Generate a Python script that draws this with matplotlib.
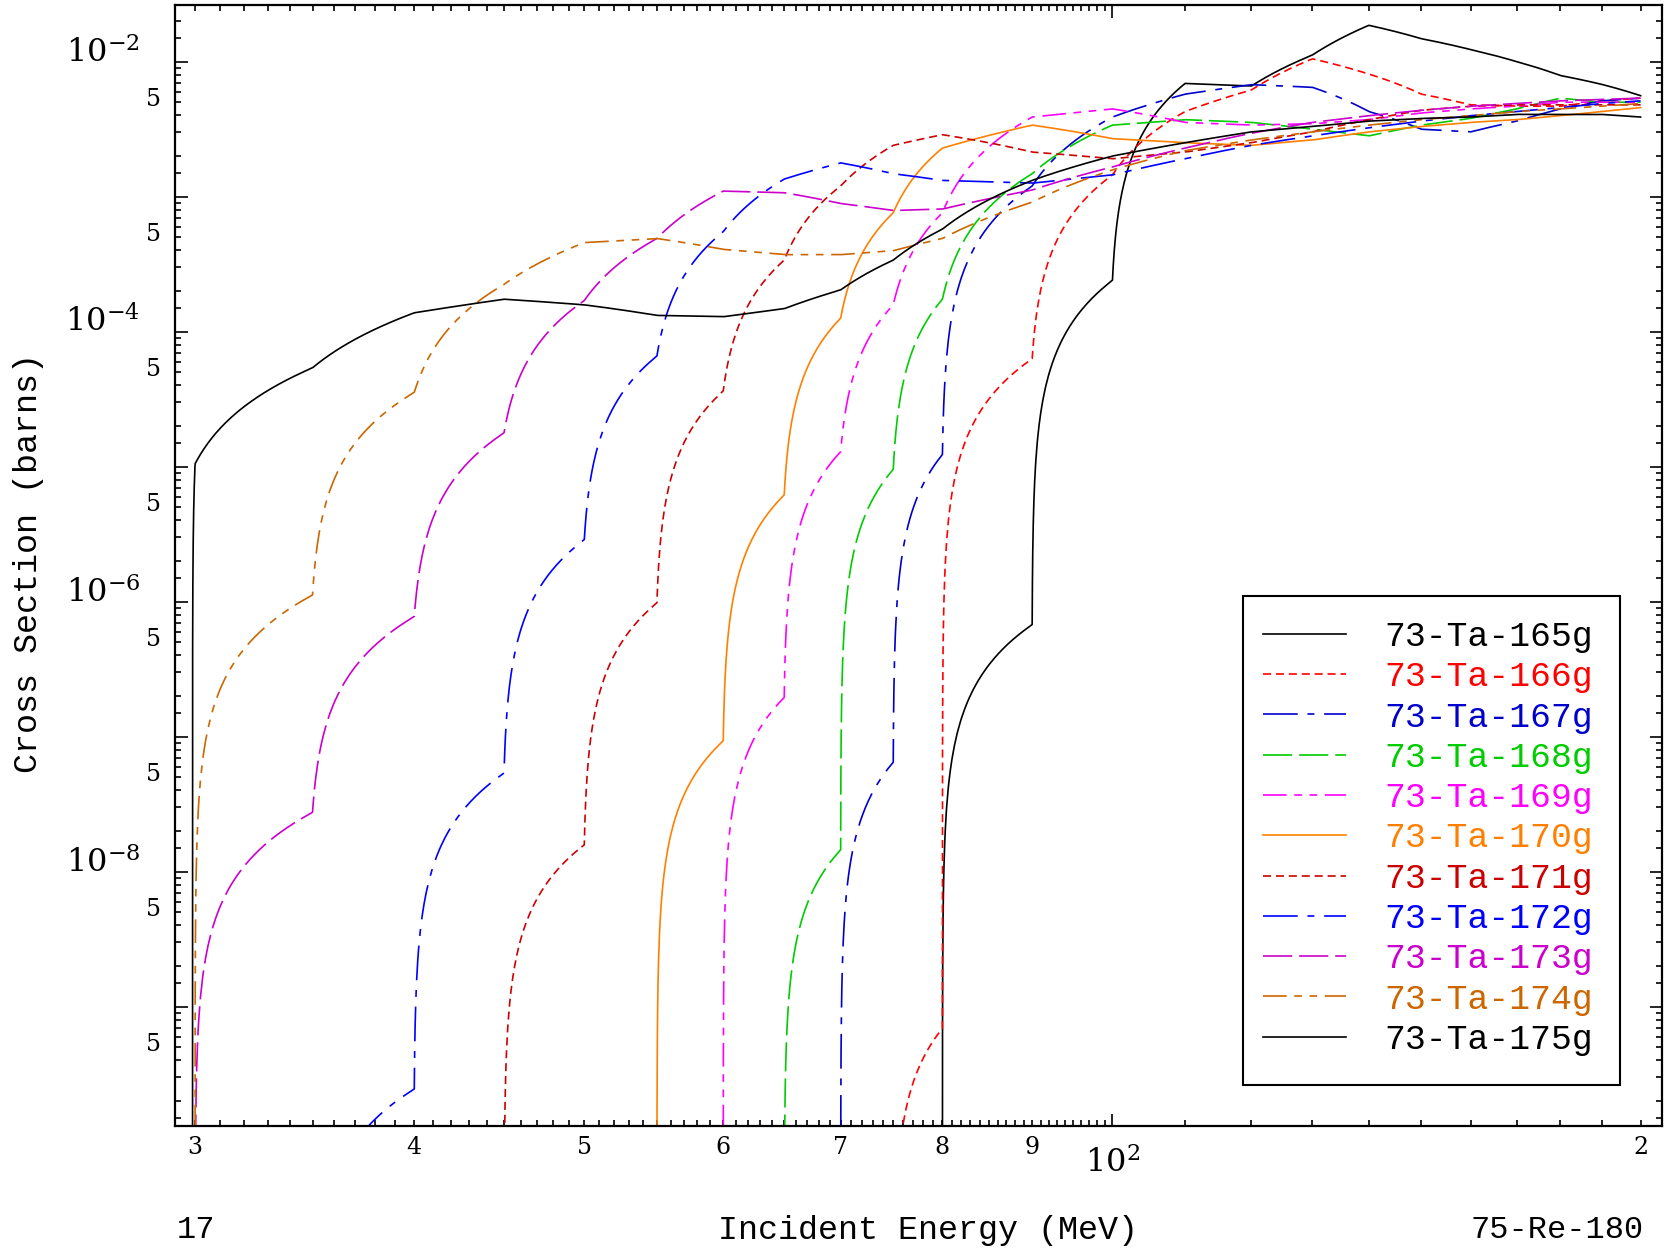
import numpy as np
import matplotlib
matplotlib.use("Agg")
import matplotlib.pyplot as plt
from matplotlib.ticker import FixedLocator, FuncFormatter, LogLocator
from matplotlib.transforms import ScaledTranslation
from matplotlib.patches import Rectangle

plt.rcParams['lines.scale_dashes'] = False
plt.rcParams['mathtext.fontset'] = 'dejavuserif'

# incident energies (MeV) of the tabulated points
energy = [29.9, 30, 35, 40, 45, 50, 55, 60, 65, 70, 75, 80, 90, 100,
          110, 120, 130, 140, 150, 160, 170, 180, 190, 200]

# cross sections (barns)
ta165 = [0, 0, 0, 0, 0, 0, 0, 0, 0, 0, 0, 0, 6.76e-7, 2.4e-4,
         6.9e-3, 6.6e-3, 1.12e-2, 1.86e-2, 1.48e-2, 1.23e-2, 1.0e-2, 7.9e-3, 6.8e-3, 5.6e-3]
ta166 = [0, 0, 0, 0, 0, 0, 0, 0, 0, 0, 0, 6.9e-10, 6.3e-5, 1.45e-3,
         4.27e-3, 6.17e-3, 1.05e-2, 8.1e-3, 5.75e-3, 4.79e-3, 4.68e-3, 4.68e-3, 5.13e-3, 5.37e-3]
ta167 = [0, 0, 0, 0, 0, 0, 0, 0, 0, 0, 6.46e-8, 1.23e-5, 1.2e-3, 3.89e-3,
         5.75e-3, 6.76e-3, 6.46e-3, 4.27e-3, 3.16e-3, 3.02e-3, 3.63e-3, 4.47e-3, 5.13e-3, 5.37e-3]
ta168 = [0, 0, 0, 0, 0, 0, 0, 0, 0, 1.45e-8, 9.55e-6, 1.74e-4, 1.48e-3, 3.39e-3,
         3.72e-3, 3.55e-3, 3.16e-3, 2.82e-3, 3.39e-3, 3.8e-3, 4.47e-3, 5.37e-3, 5.01e-3, 5.01e-3]
ta169 = [0, 0, 0, 0, 0, 0, 0, 0, 1.95e-7, 1.29e-5, 1.58e-4, 7.6e-4, 3.89e-3, 4.47e-3,
         3.55e-3, 3.39e-3, 3.47e-3, 3.72e-3, 4.17e-3, 4.47e-3, 4.68e-3, 5.01e-3, 5.01e-3, 5.01e-3]
ta170 = [0, 0, 0, 0, 0, 0, 0, 9.3e-8, 6.17e-6, 1.26e-4, 7.6e-4, 2.29e-3, 3.39e-3, 2.69e-3,
         2.51e-3, 2.4e-3, 2.63e-3, 3.02e-3, 3.31e-3, 3.55e-3, 3.72e-3, 3.98e-3, 4.27e-3, 4.57e-3]
ta171 = [0, 0, 0, 0, 0, 1.58e-8, 9.8e-7, 3.63e-5, 3.39e-4, 1.2e-3, 2.4e-3, 2.88e-3, 2.14e-3, 1.91e-3,
         2.14e-3, 2.51e-3, 3.02e-3, 3.72e-3, 4.37e-3, 4.68e-3, 4.79e-3, 4.79e-3, 4.79e-3, 4.79e-3]
ta172 = [0, 0, 0, 2.45e-10, 5.37e-8, 2.88e-6, 6.6e-5, 5.5e-4, 1.35e-3, 1.78e-3, 1.48e-3, 1.32e-3, 1.26e-3, 1.45e-3,
         1.91e-3, 2.4e-3, 2.82e-3, 3.24e-3, 3.63e-3, 3.98e-3, 4.27e-3, 4.57e-3, 4.9e-3, 5.13e-3]
ta173 = [0, 0, 2.75e-8, 7.76e-7, 1.78e-5, 1.7e-4, 4.9e-4, 1.1e-3, 1.07e-3, 8.9e-4, 7.9e-4, 8.1e-4, 1.12e-3, 1.66e-3,
         2.29e-3, 2.95e-3, 3.55e-3, 3.98e-3, 4.37e-3, 4.68e-3, 4.9e-3, 5.13e-3, 5.25e-3, 5.37e-3]
ta174 = [0, 0, 1.12e-6, 3.55e-5, 2.24e-4, 4.57e-4, 4.9e-4, 4.07e-4, 3.72e-4, 3.72e-4, 3.98e-4, 4.9e-4, 9.1e-4, 1.58e-3,
         2.19e-3, 2.63e-3, 3.02e-3, 3.39e-3, 3.72e-3, 3.98e-3, 4.27e-3, 4.47e-3, 4.68e-3, 4.9e-3]
ta175 = [0, 1.05e-5, 5.4e-5, 1.38e-4, 1.74e-4, 1.58e-4, 1.32e-4, 1.29e-4, 1.48e-4, 2.04e-4, 3.39e-4, 5.75e-4, 1.32e-3, 2.0e-3,
         2.51e-3, 3.02e-3, 3.31e-3, 3.63e-3, 3.8e-3, 3.89e-3, 4.07e-3, 4.07e-3, 4.07e-3, 3.89e-3]

labels = ["73-Ta-165g", "73-Ta-166g", "73-Ta-167g", "73-Ta-168g", "73-Ta-169g", "73-Ta-170g",
          "73-Ta-171g", "73-Ta-172g", "73-Ta-173g", "73-Ta-174g", "73-Ta-175g"]
data = [ta165, ta166, ta167, ta168, ta169, ta170, ta171, ta172, ta173, ta174, ta175]
colors = ["black", "#FF0000", "#0000CC", "#00CC00", "#FF00FF", "#FF8000",
          "#CC0000", "#0000FF", "#CC00CC", "#CC6600", "black"]

# line types: solid, dashed, dash-dot, long dash, dash-dot-dot
dash_types = {
    'solid': None,
    'dash': (5.8, 3.5),
    'dashdot': (25, 7, 5, 7),
    'long': (21, 5),
    'dashdotdot': (17, 5.5, 5.5, 5.5, 5.5, 5.5),
}
styles = ['solid', 'dash', 'dashdot', 'long', 'dashdotdot', 'solid',
          'dash', 'dashdot', 'long', 'dashdotdot', 'solid']


def linlin(e, s):
    # points are joined lin-lin (as in the evaluated file), so on log-log axes
    # each segment is a curve; sample it densely near both ends
    e = np.asarray(e, float)
    s = np.asarray(s, float)
    first = np.nonzero(s > 0)[0][0]
    start = max(first - 1, 0)
    t = np.unique(np.concatenate([np.logspace(-8, 0, 90), 1 - np.logspace(-8, 0, 90),
                                  np.linspace(0, 1, 50)]))
    xs, ys = [], []
    for i in range(start, len(e) - 1):
        xs.append(e[i] + t * (e[i + 1] - e[i]))
        ys.append(s[i] + t * (s[i + 1] - s[i]))
    return np.concatenate(xs), np.concatenate(ys)


W, H = 1665, 1251
fig = plt.figure(figsize=(W / 100, H / 100), dpi=100)
ax = fig.add_axes([175 / W, 1 - 1126 / H, (1662 - 175) / W, (1126 - 5) / H])
ax.set_xscale('log')
ax.set_yscale('log', nonpositive='clip')

handles = []
for lab, vals, col, st in zip(labels, data, colors, styles):
    x, y = linlin(energy, vals)
    ln, = ax.plot(x, y, color=col, lw=1.2, label=lab)
    if dash_types[st] is not None:
        ln.set_dashes(dash_types[st])
    handles.append(ln)

ax.set_xlim(29.22, 205.7)
ax.set_ylim(1.306e-10, 0.0263)

for sp in ax.spines.values():
    sp.set_linewidth(1.6)

# x ticks
ax.xaxis.set_major_locator(FixedLocator([100]))
ax.xaxis.set_major_formatter(FuncFormatter(lambda v, p: r'$10^{2}$'))
xminor = list(range(30, 100)) + list(range(110, 210, 10))
ax.xaxis.set_minor_locator(FixedLocator(xminor))
xlab = {30: '3', 40: '4', 50: '5', 60: '6', 70: '7', 80: '8', 90: '9', 200: '2'}
ax.xaxis.set_minor_formatter(FuncFormatter(lambda v, p: xlab.get(int(round(v)), '')))

# y ticks
ax.yaxis.set_major_locator(LogLocator(base=10, numticks=30))
ax.yaxis.set_major_formatter(FuncFormatter(
    lambda v, p: r'$10^{%d}$' % round(np.log10(v)) if round(np.log10(v)) % 2 == 0 else ''))
ax.yaxis.set_minor_locator(LogLocator(base=10, subs=[1.5, 2, 3, 4, 5, 6, 7, 8, 9], numticks=300))
ax.yaxis.set_minor_formatter(FuncFormatter(
    lambda v, p: '5' if abs(v / 10 ** np.floor(np.log10(v) + 1e-9) - 5) < 0.01 else ''))

ax.tick_params(which='both', direction='in', top=True, right=True, width=1.2)
ax.tick_params(axis='x', which='major', length=9, pad=15, labelsize=23)
ax.tick_params(axis='x', which='minor', length=4.5, pad=7, labelsize=17)
ax.tick_params(axis='y', which='major', length=9, pad=25, labelsize=23)
ax.tick_params(axis='y', which='minor', length=4.5, pad=10, labelsize=17)
for lbl in ax.get_xticklabels(which='minor') + ax.get_yticklabels(which='minor'):
    lbl.set_family('DejaVu Serif')

up_major = ScaledTranslation(0, 9 / 72, fig.dpi_scale_trans)
up_minor = ScaledTranslation(0, 4 / 72, fig.dpi_scale_trans)
for lbl in ax.get_yticklabels(which='major'):
    lbl.set_transform(lbl.get_transform() + up_major)
for lbl in ax.get_yticklabels(which='minor'):
    lbl.set_transform(lbl.get_transform() + up_minor)

mono = 'Liberation Mono'
fig.text(29 / W, 1 - 563 / H, 'Cross Section (barns)', rotation=90, family=mono,
         size=24, ha='center', va='center')
fig.text(928 / W, 1 - 1230 / H, 'Incident Energy (MeV)', family=mono, size=24,
         ha='center', va='center')
fig.text(196 / W, 1 - 1230 / H, '17', family=mono, size=23, ha='center', va='center')
fig.text(1644 / W, 1 - 1230 / H, '75-Re-180', family=mono, size=23, ha='right', va='center')

leg = ax.legend(handles=handles, loc='upper left',
                bbox_to_anchor=(1263 / W, 1 - 620 / H), bbox_transform=fig.transFigure,
                prop={'family': mono, 'size': 25}, frameon=False, borderpad=0,
                borderaxespad=0, handlelength=2.4, handletextpad=1.1, labelspacing=0.21)
for txt, col in zip(leg.get_texts(), colors):
    txt.set_color(col)
fig.add_artist(Rectangle((1243 / W, 1 - 1085 / H), (1620 - 1243) / W, (1085 - 596) / H,
                         transform=fig.transFigure, fill=False, lw=1.5, ec='black', zorder=5))

fig.savefig('out.png', dpi=100)
